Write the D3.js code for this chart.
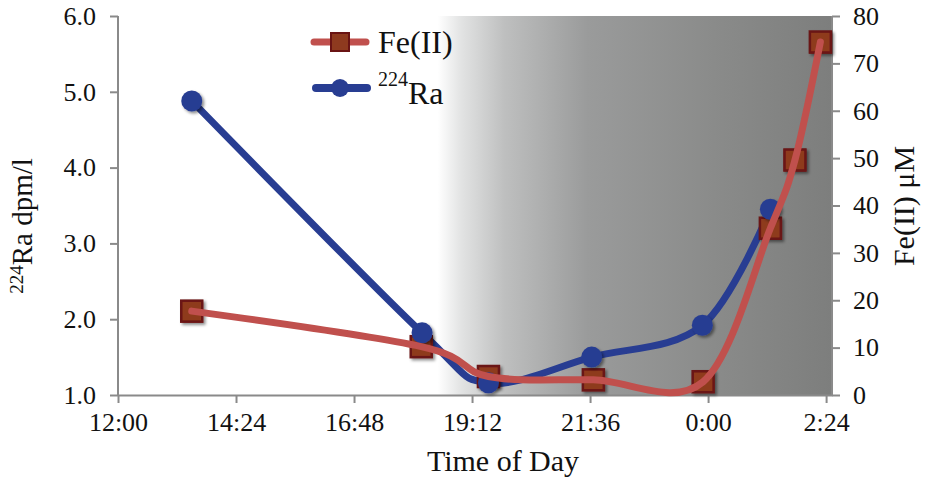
<!DOCTYPE html>
<html>
<head>
<meta charset="utf-8">
<script src="https://cdn.jsdelivr.net/npm/d3@7"></script>
<style>
  html, body { margin: 0; padding: 0; background: #fff; }
  svg { display: block; }
  text { font-family: "Liberation Serif", "Times New Roman", serif; fill: #111; }
</style>
</head>
<body>
<svg id="chart" width="928" height="478"></svg>
<script>
// ---- data ----
const feTimes  = ["13:30", "18:10", "19:32", "21:40", "23:54", "1:16", "1:46", "2:17"];
const feValues = [17.7, 10.2, 3.9, 3.2, 2.8, 35.2, 49.6, 74.5];          // Fe(II) µM (right axis)
const raTimes  = ["13:30", "18:11", "19:32", "21:38", "23:53", "1:16"];
const raValues = [4.88, 1.82, 1.16, 1.50, 1.92, 3.45];                    // 224Ra dpm/l (left axis)
const xTickLabels = ["12:00", "14:24", "16:48", "19:12", "21:36", "0:00", "2:24"];
const leftTicks  = [1, 2, 3, 4, 5, 6];
const rightTicks = [0, 10, 20, 30, 40, 50, 60, 70, 80];
const nightStart = "18:30";

// time string -> hours since midnight of day 1 (times before noon are next day)
function toHours(s) {
  const [h, m] = s.split(":").map(Number);
  let v = h + m / 60;
  if (v < 12) v += 24;
  return v;
}

const svg = d3.select("#chart");
const mLeft = 118, mRight = 832, mTop = 16, mBottom = 395;

const x = d3.scaleLinear().domain([12, 26.52]).range([mLeft, mRight]);
const yL = d3.scaleLinear().domain([1, 6]).range([mBottom, mTop]);
const yR = d3.scaleLinear().domain([0, 80]).range([mBottom, mTop]);

const defs = svg.append("defs");
const grad = defs.append("linearGradient").attr("id", "night").attr("x1", "0").attr("x2", "1").attr("y1", "0").attr("y2", "0");
[[0, "#ffffff"], [0.06, "#e2e3e3"], [0.17, "#bebfbf"], [0.38, "#9a9b9b"], [0.7, "#8a8b8a"], [1, "#7d7e7d"]]
  .forEach(([o, c]) => grad.append("stop").attr("offset", o).attr("stop-color", c));
const shadow = defs.append("filter").attr("id", "shadow").attr("x", "-50%").attr("y", "-50%").attr("width", "200%").attr("height", "200%");
shadow.append("feDropShadow").attr("dx", 2).attr("dy", 2).attr("stdDeviation", 1.8)
  .attr("flood-color", "#000").attr("flood-opacity", 0.45);

// night shading
const nx = x(toHours(nightStart));
svg.append("rect").attr("x", nx).attr("y", mTop).attr("width", mRight - nx).attr("height", mBottom - mTop)
  .attr("fill", "url(#night)");

// axes
const axisColor = "#8a8a8a";
const xTickVals = xTickLabels.map(toHours);
const xAxis = svg.append("g").attr("transform", `translate(0,${mBottom})`)
  .call(d3.axisBottom(x).tickValues(xTickVals).tickFormat((d, i) => xTickLabels[i]).tickSize(8).tickSizeOuter(0).tickPadding(10));
const lAxis = svg.append("g").attr("transform", `translate(${mLeft},0)`)
  .call(d3.axisLeft(yL).tickValues(leftTicks).tickFormat(d3.format(".1f")).tickSize(8).tickSizeOuter(0).tickPadding(14));
const rAxis = svg.append("g").attr("transform", `translate(${mRight},0)`)
  .call(d3.axisRight(yR).tickValues(rightTicks).tickSize(8).tickSizeOuter(0).tickPadding(13));
[xAxis, lAxis, rAxis].forEach(g => {
  g.select(".domain").attr("stroke", axisColor).attr("stroke-width", 2);
  g.selectAll(".tick line").attr("stroke", axisColor).attr("stroke-width", 2);
  g.selectAll(".tick text").attr("font-size", 26).attr("fill", "#111")
    .style("font-family", '"Liberation Serif", "Times New Roman", serif');
});
xAxis.selectAll(".tick text").attr("dy", "0.71em");
lAxis.select(".domain").attr("d", `M0,${mBottom}V${mTop}`);
rAxis.select(".domain").attr("d", `M0,${mBottom}V${mTop}`);

// series
const feData = feTimes.map((t, i) => ({ t: toHours(t), v: feValues[i] }));
const raData = raTimes.map((t, i) => ({ t: toHours(t), v: raValues[i] }));

const blue = "#283d92", red = "#c0504d";
const lineRa = d3.line().x(d => x(d.t)).y(d => yL(d.v)).curve(d3.curveCardinal.tension(0));
const lineFe = d3.line().x(d => x(d.t)).y(d => yR(d.v)).curve(d3.curveCardinal.tension(0));

svg.append("path").datum(raData).attr("d", lineRa).attr("fill", "none")
  .attr("stroke", blue).attr("stroke-width", 7).attr("stroke-linecap", "round").attr("stroke-linejoin", "round");

const sq = 21;
svg.append("g").attr("filter", "url(#shadow)").selectAll("rect").data(feData).join("rect")
  .attr("x", d => x(d.t) - sq / 2).attr("y", d => yR(d.v) - sq / 2)
  .attr("width", sq).attr("height", sq)
  .attr("fill", "#8e3a1f").attr("stroke", "#6a1414").attr("stroke-width", 2.5);

svg.append("g").attr("filter", "url(#shadow)").selectAll("circle").data(raData).join("circle")
  .attr("cx", d => x(d.t)).attr("cy", d => yL(d.v)).attr("r", 10.5).attr("fill", blue);

svg.append("path").datum(feData).attr("d", lineFe).attr("fill", "none")
  .attr("stroke", red).attr("stroke-width", 7).attr("stroke-linecap", "round").attr("stroke-linejoin", "round");

// axis titles
svg.append("text").attr("x", 503).attr("y", 471).attr("text-anchor", "middle").attr("font-size", 30).text("Time of Day");

const lt = svg.append("text").attr("transform", "translate(32,226) rotate(-90)").attr("text-anchor", "middle").attr("font-size", 29);
lt.append("tspan").attr("font-size", 19).attr("dy", "-0.5em").text("224");
lt.append("tspan").attr("dy", "0.33em").text("Ra dpm/l");

svg.append("text").attr("transform", "translate(914,206) rotate(-90)").attr("text-anchor", "middle").attr("font-size", 30).text("Fe(II) μM");

// legend
const lg = svg.append("g");
lg.append("line").attr("x1", 314).attr("x2", 366).attr("y1", 42).attr("y2", 42).attr("stroke", red).attr("stroke-width", 7).attr("stroke-linecap", "round");
lg.append("rect").attr("x", 331).attr("y", 33).attr("width", 18).attr("height", 18).attr("fill", "#8e3a1f").attr("stroke", "#6a1414").attr("stroke-width", 2);
lg.append("text").attr("x", 378).attr("y", 53).attr("font-size", 32).text("Fe(II)");
lg.append("line").attr("x1", 316).attr("x2", 367).attr("y1", 88).attr("y2", 88).attr("stroke", blue).attr("stroke-width", 8).attr("stroke-linecap", "round");
lg.append("circle").attr("cx", 340).attr("cy", 88).attr("r", 9).attr("fill", blue);
const rt = lg.append("text").attr("x", 378).attr("y", 97).attr("font-size", 32);
rt.append("tspan").attr("font-size", 20).attr("dy", "-0.55em").text("224");
rt.append("tspan").attr("dy", "0.55em").text("Ra");
</script>
</body>
</html>
